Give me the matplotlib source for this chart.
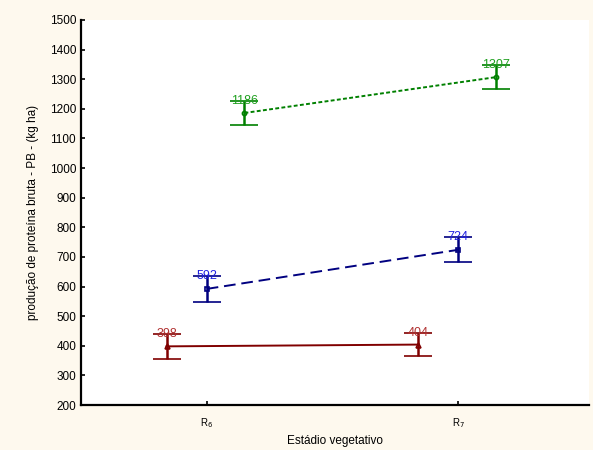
import numpy as np
import matplotlib.pyplot as plt

plt.rcParams['font.family'] = ['Liberation Sans', 'DejaVu Sans']

# stages and series
stages = ["R$_6$", "R$_7$"]
red_mean = [398, 404]
red_err = [41, 40]
blue_mean = [592, 724]
blue_err = [44, 42]
green_mean = [1186, 1307]
green_err = [40, 40]

fig = plt.figure(figsize=(5.93, 4.5), dpi=100)
fig.patch.set_facecolor("#FEF9EE")
ax = fig.add_axes([0.1366, 0.1, 0.8566, 0.8556])
ax.set_facecolor("white")

x = np.arange(1, len(stages) + 1)

series = [
    (red_mean, red_err, -0.16, "#800000", "#B03030", "-", "^", 3.5),
    (blue_mean, blue_err, 0.0, "#000080", "#2020E0", (0, (6, 3)), "s", 3.5),
    (green_mean, green_err, 0.15, "#008000", "#20A020", (0, (2, 1.2)), "o", 3),
]

for mean, err, off, col, tcol, ls, mk, ms in series:
    xs = x + off
    ax.plot(xs, mean, color=col, linestyle=ls, linewidth=1.4)
    ax.errorbar(xs, mean, yerr=err, fmt=mk, color=col, ecolor=col,
                markersize=ms, markerfacecolor="none", markeredgewidth=1.2,
                elinewidth=1.8, capsize=10, capthick=1.5)
    for xi, m, e in zip(xs, mean, err):
        ax.text(xi, m + e, str(m), color=tcol, fontsize=9,
                ha="center", va="center")

ax.set_xlim(0.5, 2.52)
ax.set_ylim(200, 1500)
ax.set_yticks(np.arange(200, 1501, 100))
ax.set_xticks(x)
ax.set_xticklabels(stages, fontsize=7)
ax.tick_params(axis="y", labelsize=8.5, length=3, width=1.2, direction="in")
ax.tick_params(axis="x", length=3, width=1.2, direction="in", pad=8)

for s in ["top", "right"]:
    ax.spines[s].set_visible(False)
for s in ["left", "bottom"]:
    ax.spines[s].set_linewidth(1.6)

ax.set_xlabel("Estádio vegetativo", fontsize=8.5)
ax.set_ylabel("produção de proteína bruta - PB - (kg ha)", fontsize=8.5,
              labelpad=8)

fig.savefig("out.png", dpi=100, facecolor=fig.get_facecolor())
